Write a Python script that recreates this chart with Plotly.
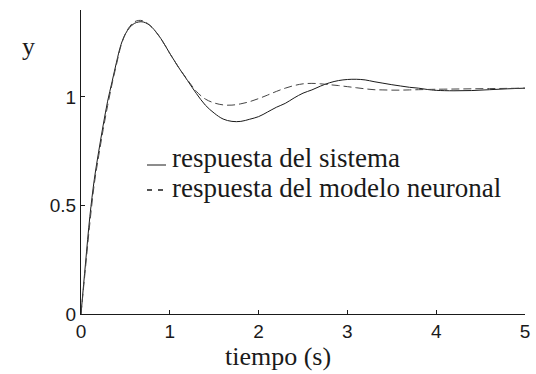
import plotly.graph_objects as go

# Step response: time axis (s)
t = [0, 0.05, 0.1, 0.15, 0.2, 0.25, 0.3, 0.35, 0.4, 0.45, 0.5, 0.55, 0.6, 0.65,
     0.7, 0.75, 0.8, 0.9, 1.0, 1.1, 1.2, 1.3, 1.4, 1.5, 1.6, 1.7, 1.8, 1.9, 2.0,
     2.1, 2.2, 2.3, 2.4, 2.5, 2.6, 2.7, 2.8, 2.9, 3.0, 3.1, 3.2, 3.3, 3.4, 3.5,
     3.6, 3.7, 3.8, 3.9, 4.0, 4.2, 4.4, 4.6, 4.8, 5.0]

# Response of the real system
y_sistema = [0, 0.23, 0.45, 0.62, 0.75, 0.87, 0.98, 1.07, 1.16, 1.24, 1.29, 1.32,
             1.338, 1.345, 1.345, 1.336, 1.32, 1.268, 1.20, 1.135, 1.075, 1.015,
             0.962, 0.925, 0.898, 0.887, 0.887, 0.897, 0.909, 0.93, 0.952, 0.97,
             0.995, 1.017, 1.032, 1.05, 1.065, 1.075, 1.08, 1.081, 1.078, 1.07,
             1.063, 1.056, 1.05, 1.044, 1.04, 1.034, 1.03, 1.028, 1.029, 1.033,
             1.037, 1.04]

# Response of the neural network model
y_modelo = [0, 0.21, 0.42, 0.60, 0.73, 0.85, 0.96, 1.06, 1.15, 1.235, 1.29, 1.325,
            1.345, 1.352, 1.35, 1.338, 1.32, 1.268, 1.20, 1.135, 1.078, 1.025,
            0.99, 0.972, 0.963, 0.962, 0.968, 0.978, 0.992, 1.008, 1.025, 1.04,
            1.052, 1.06, 1.062, 1.06, 1.056, 1.052, 1.047, 1.042, 1.037, 1.033,
            1.032, 1.031, 1.031, 1.032, 1.033, 1.034, 1.035, 1.036, 1.037, 1.038,
            1.039, 1.04]

x_ticks = [0, 1, 2, 3, 4, 5]
y_ticks = [0, 0.5, 1]
y_tick_text = ["0", "0.5", "1"]
legend_labels = ["respuesta del sistema", "respuesta del modelo neuronal"]

serif = "Liberation Serif, Times New Roman, serif"
sans = "Liberation Sans, Arial, sans-serif"
ink = "#1a1a1a"

fig = go.Figure()
fig.add_trace(go.Scatter(x=t, y=y_sistema, mode="lines", line_shape="spline",
                         line=dict(color=ink, width=1), name=legend_labels[0]))
fig.add_trace(go.Scatter(x=t, y=y_modelo, mode="lines", line_shape="spline",
                         line=dict(color="#444444", width=1, dash="8px,4px"),
                         name=legend_labels[1]))

L, R, T, B = 81, 11, 10, 60
W, H = 536, 374
pw, ph = W - L - R, H - T - B

def px(xp):
    return (xp - L) / pw

def py(yp):
    return (H - B - yp) / ph

fig.update_layout(
    width=W, height=H,
    margin=dict(l=L, r=R, t=T, b=B),
    paper_bgcolor="white", plot_bgcolor="white",
    showlegend=False,
    xaxis=dict(range=[0, 5], tickvals=x_ticks, ticks="inside", ticklen=4,
               tickcolor=ink, showline=True, linecolor=ink, linewidth=1,
               showgrid=False, zeroline=False, automargin=False,
               tickfont=dict(family=sans, size=19, color=ink)),
    yaxis=dict(range=[0, 1.4], tickvals=y_ticks, ticktext=y_tick_text,
               ticks="inside", ticklen=4, tickcolor=ink, showline=True,
               linecolor=ink, linewidth=1, showgrid=False, zeroline=False,
               automargin=False,
               tickfont=dict(family=sans, size=19, color=ink)),
)

# Axis titles
fig.add_annotation(text="tiempo (s)", xref="paper", yref="paper",
                   x=px(278), y=py(356), xanchor="center", yanchor="middle",
                   showarrow=False, font=dict(family=serif, size=26, color=ink))
fig.add_annotation(text="y", xref="paper", yref="paper",
                   x=px(28), y=py(46), xanchor="center", yanchor="middle",
                   showarrow=False, font=dict(family=serif, size=26, color=ink))

# Legend: two label lines in one text block (line pitch set by the outer
# font size, glyph size by the inner span), plus line samples
legend_text = "<br>".join(
    f'<span style="font-size:27px">{s}</span>' for s in legend_labels)
fig.add_annotation(text=legend_text, xref="paper", yref="paper",
                   x=px(170), y=py(172.5), xanchor="left", yanchor="middle",
                   align="left", showarrow=False,
                   font=dict(family=serif, size=23.1, color=ink))
fig.add_shape(type="line", xref="paper", yref="paper",
              x0=px(147), x1=px(166), y0=py(165), y1=py(165),
              line=dict(color=ink, width=1))
for a, b in [(147, 152), (158, 163)]:
    fig.add_shape(type="line", xref="paper", yref="paper",
                  x0=px(a), x1=px(b), y0=py(190), y1=py(190),
                  line=dict(color=ink, width=1.5))

fig.write_html("out.html")
